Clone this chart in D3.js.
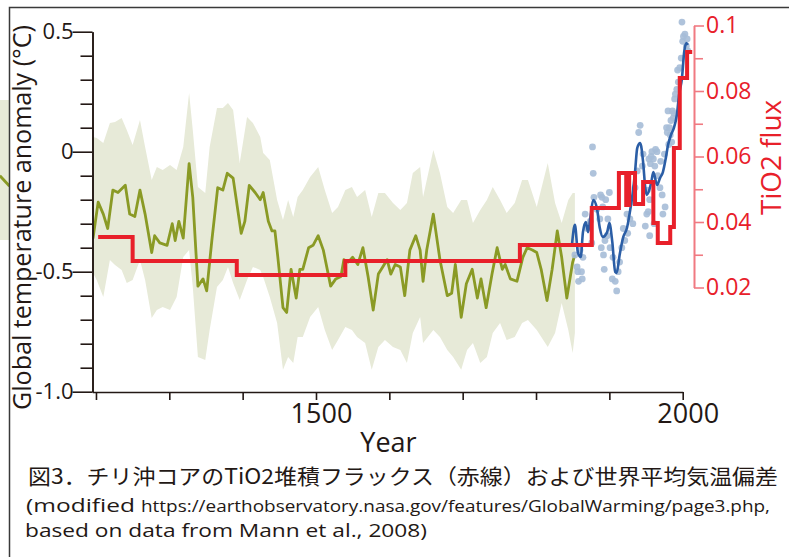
<!DOCTYPE html>
<html>
<head>
<meta charset="utf-8">
<script src="https://d3js.org/d3.v7.min.js"></script>
<style>
  body { margin: 0; background: #fff; }
  svg { display: block; }
</style>
</head>
<body>
<svg id="chart" width="789" height="557"></svg>
<script>
// Reconstruction (Mann et al. 2008), smoothed
const reconYears = [1069, 1081, 1196, 1203, 1210, 1216, 1223, 1230, 1240, 1246,
  1253, 1260, 1267, 1276, 1280, 1287, 1297, 1304, 1308, 1313,
  1319, 1327, 1332, 1339, 1346, 1351, 1358, 1366, 1373, 1379,
  1387, 1398, 1403, 1409, 1417, 1424, 1428, 1435, 1440, 1444,
  1448, 1455, 1460, 1466, 1473, 1478, 1482, 1490, 1496, 1503,
  1510, 1520, 1527, 1534, 1538, 1544, 1550, 1557, 1564, 1571,
  1578, 1585, 1591, 1597, 1602, 1608, 1615, 1621, 1628, 1636,
  1642, 1646, 1651, 1660, 1669, 1679, 1685, 1690, 1698, 1705,
  1713, 1720, 1725, 1732, 1740, 1747, 1754, 1758, 1765, 1774,
  1782, 1788, 1795, 1801, 1807, 1815, 1822, 1829, 1835, 1842,
  1850, 1853];
const reconTemp = [-0.10, -0.14, -0.36, -0.21, -0.26, -0.32, -0.16, -0.17, -0.14, -0.26,
  -0.27, -0.16, -0.26, -0.42, -0.35, -0.38, -0.39, -0.30, -0.37, -0.29,
  -0.36, -0.05, -0.19, -0.56, -0.53, -0.58, -0.37, -0.15, -0.16, -0.09,
  -0.11, -0.34, -0.29, -0.14, -0.17, -0.20, -0.17, -0.29, -0.33, -0.33,
  -0.44, -0.65, -0.67, -0.49, -0.61, -0.49, -0.49, -0.40, -0.39, -0.35,
  -0.41, -0.56, -0.53, -0.52, -0.45, -0.46, -0.44, -0.47, -0.40, -0.52,
  -0.66, -0.51, -0.48, -0.45, -0.51, -0.47, -0.48, -0.60, -0.41, -0.35,
  -0.41, -0.54, -0.41, -0.26, -0.45, -0.60, -0.59, -0.47, -0.69, -0.55,
  -0.49, -0.61, -0.53, -0.65, -0.51, -0.40, -0.49, -0.47, -0.53, -0.54,
  -0.44, -0.40, -0.41, -0.42, -0.49, -0.62, -0.49, -0.33, -0.44, -0.61,
  -0.46, -0.43];

// Uncertainty band
const bandYears = [1069, 1081, 1196, 1201, 1210, 1219, 1226, 1235, 1242, 1250,
  1260, 1267, 1276, 1283, 1291, 1301, 1310, 1319, 1327, 1332,
  1339, 1349, 1355, 1365, 1373, 1380, 1387, 1396, 1406, 1414,
  1424, 1428, 1437, 1447, 1455, 1462, 1469, 1475, 1482, 1492,
  1503, 1512, 1522, 1530, 1540, 1549, 1556, 1567, 1576, 1585,
  1594, 1605, 1615, 1624, 1632, 1642, 1646, 1660, 1669, 1679,
  1687, 1698, 1706, 1714, 1724, 1733, 1741, 1751, 1760, 1771,
  1781, 1789, 1801, 1816, 1826, 1835, 1844, 1850, 1853];
const bandUpper = [0.215, 0.215, 0.061, 0.057, 0.036, 0.120, 0.124, 0.140, 0.090, 0.028,
  0.132, 0.020, -0.118, -0.064, -0.076, -0.055, -0.076, 0.020, 0.245, 0.090,
  -0.147, -0.172, 0.020, 0.182, 0.182, 0.203, 0.174, -0.047, 0.145, 0.120,
  0.061, -0.005, -0.035, -0.201, -0.285, -0.201, -0.272, -0.189, -0.160, -0.105,
  -0.064, -0.160, -0.255, -0.230, -0.160, -0.147, -0.189, -0.160, -0.272, -0.172,
  -0.172, -0.214, -0.243, -0.214, -0.089, -0.064, -0.189, 0.007, -0.089, -0.230,
  -0.255, -0.201, -0.201, -0.297, -0.243, -0.201, -0.147, -0.201, -0.255, -0.214,
  -0.118, -0.118, -0.230, -0.047, -0.214, -0.297, -0.201, -0.172, -0.172];
const bandLower = [-0.368, -0.368, -0.505, -0.535, -0.605, -0.451, -0.472, -0.493, -0.547, -0.535,
  -0.451, -0.535, -0.693, -0.660, -0.647, -0.660, -0.605, -0.439, -0.410, -0.564,
  -0.855, -0.868, -0.743, -0.564, -0.535, -0.480, -0.547, -0.618, -0.535, -0.480,
  -0.493, -0.522, -0.605, -0.714, -0.909, -0.855, -0.880, -0.772, -0.772, -0.689,
  -0.647, -0.743, -0.826, -0.785, -0.730, -0.743, -0.772, -0.797, -0.909, -0.814,
  -0.785, -0.814, -0.826, -0.880, -0.755, -0.689, -0.797, -0.743, -0.772, -0.826,
  -0.855, -0.909, -0.826, -0.797, -0.880, -0.855, -0.755, -0.714, -0.785, -0.772,
  -0.714, -0.701, -0.743, -0.814, -0.755, -0.630, -0.743, -0.839, -0.755];

// Instrumental record, smoothed
const instYears = [1849, 1853, 1857, 1861, 1864, 1868, 1871, 1874, 1878, 1883,
  1887, 1891, 1897, 1900, 1904, 1908, 1910, 1914, 1919, 1924,
  1928, 1932, 1935, 1938, 1942, 1946, 1949, 1951, 1957, 1960,
  1965, 1969, 1973, 1977, 1980, 1984, 1988, 1992, 1995, 1999,
  2002, 2005, 2007];
const instTemp = [-0.389, -0.305, -0.418, -0.439, -0.335, -0.293, -0.335, -0.276, -0.201, -0.235,
  -0.318, -0.355, -0.335, -0.297, -0.376, -0.501, -0.505, -0.430, -0.355, -0.318,
  -0.251, -0.168, -0.085, 0.015, 0.036, -0.043, -0.151, -0.180, -0.130, -0.085,
  -0.139, -0.110, -0.085, -0.026, 0.028, 0.070, 0.099, 0.153, 0.236, 0.307,
  0.415, 0.453, 0.445];

// Instrumental record, annual points
const obsYears = [1853, 1856, 1857, 1858, 1863, 1862, 1867, 1870, 1874, 1876,
  1877, 1878, 1879, 1883, 1887, 1890, 1891, 1889, 1892, 1893,
  1894, 1898, 1897, 1901, 1904, 1905, 1908, 1910, 1912, 1914,
  1917, 1919, 1921, 1924, 1925, 1928, 1931, 1932, 1935, 1938,
  1940, 1942, 1945, 1946, 1949, 1951, 1953, 1952, 1955, 1956,
  1958, 1960, 1962, 1965, 1966, 1969, 1972, 1973, 1976, 1978,
  1979, 1980, 1983, 1985, 1987, 1989, 1990, 1992, 1993, 1994,
  1996, 1998, 1999, 2000, 2001, 2003, 2005, 2006, 2007, 1888,
  1895, 1900, 1954, 1957, 1963, 1970, 1975, 1981, 1982, 1984,
  1986, 1988, 1955, 1961, 1864, 1860];
const obsTemp = [-0.43, -0.48, -0.50, -0.54, -0.53, -0.50, -0.26, -0.32, -0.29, -0.38,
  0.02, -0.09, -0.19, -0.24, -0.28, -0.19, -0.23, -0.40, -0.43, -0.49,
  -0.37, -0.28, -0.35, -0.40, -0.53, -0.44, -0.54, -0.58, -0.50, -0.46,
  -0.40, -0.32, -0.37, -0.26, -0.34, -0.28, -0.21, -0.30, -0.15, -0.08,
  0.08, 0.11, -0.06, -0.01, -0.31, -0.26, -0.25, -0.16, -0.20, -0.05,
  0.00, -0.03, -0.06, 0.00, -0.10, -0.15, -0.18, -0.26, -0.23, 0.10,
  0.08, 0.17, 0.07, 0.04, 0.14, 0.22, 0.24, 0.26, 0.34, 0.29,
  0.35, 0.39, 0.54, 0.46, 0.48, 0.49, 0.44, 0.47, 0.42, -0.18,
  -0.20, -0.17, -0.03, -0.02, 0.01, -0.04, -0.01, 0.03, 0.10, 0.13,
  0.17, 0.16, -0.35, -0.30, -0.44, -0.41];

// TiO2 flux steps (value holds from fluxYears[i] to fluxYears[i+1])
const fluxYears = [1203, 1250, 1392, 1540, 1778, 1876, 1913, 1923, 1927, 1935,
  1946, 1960, 1966, 1983, 1988, 1996, 2006, 2013];
const fluxValues = [0.0354, 0.0281, 0.0238, 0.0281, 0.0330, 0.0443, 0.0550, 0.0452, 0.0550, 0.0455,
  0.0522, 0.0397, 0.0336, 0.0385, 0.0626, 0.0840, 0.0919];

const yearTicks = [1200, 1300, 1400, 1500, 1600, 1700, 1800, 1900, 2000];
const yearLabels = [1500, 2000];
const tempMajor = [0.5, 0, -0.5, -1.0];
const tempMinor = [0.4, 0.3, 0.2, 0.1, -0.1, -0.2, -0.3, -0.4, -0.6, -0.7, -0.8, -0.9];
const tempLabels = ["0.5", "0", "-0.5", "-1.0"];
const fluxMajor = [0.1, 0.08, 0.06, 0.04, 0.02];
const fluxMinor = [0.09, 0.07, 0.05, 0.03];
const fluxLabels = ["0.1", "0.08", "0.06", "0.04", "0.02"];

const INK = "#231815";
const RED = "#e8202a";
const FONT = "'Open Sans', 'Noto Sans', sans-serif";

const svg = d3.select("#chart");

const x = d3.scaleLinear().domain([1195, 2000]).range([92.3, 682.7]);
const yT = d3.scaleLinear().domain([-1.0, 0.5]).range([391.7, 31.7]);
const yF = d3.scaleLinear().domain([0.02, 0.1]).range([287.5, 25.5]);

// uncertainty band
const band = d3.area()
  .x((d, i) => x(bandYears[i]))
  .y0((d, i) => yT(bandLower[i]))
  .y1((d, i) => yT(bandUpper[i]));
svg.append("path")
  .attr("d", band(bandYears))
  .attr("fill", "#e7ead8");

// reconstruction line
const recon = d3.line()
  .x((d, i) => x(reconYears[i]))
  .y((d, i) => yT(reconTemp[i]));
svg.append("path")
  .attr("d", recon(reconYears))
  .attr("fill", "none")
  .attr("stroke", "#8a9a25")
  .attr("stroke-width", 2.8)
  .attr("stroke-linejoin", "round");

// observed annual values
svg.append("g").selectAll("circle")
  .data(obsYears)
  .enter().append("circle")
    .attr("cx", (d, i) => x(d))
    .attr("cy", (d, i) => yT(obsTemp[i]))
    .attr("r", 3.4)
    .attr("fill", "#a6bcd7")
    .attr("opacity", 0.9);

// instrumental smoothed line
const inst = d3.line()
  .x((d, i) => x(instYears[i]))
  .y((d, i) => yT(instTemp[i]))
  .curve(d3.curveMonotoneX);
svg.append("path")
  .attr("d", inst(instYears))
  .attr("fill", "none")
  .attr("stroke", "#2b5ea6")
  .attr("stroke-width", 2.6)
  .attr("stroke-linejoin", "round");

// TiO2 flux step line
const fluxPts = fluxValues.map((v, i) => [fluxYears[i], v]);
fluxPts.push([fluxYears[fluxYears.length - 1], fluxValues[fluxValues.length - 1]]);
const flux = d3.line()
  .x(d => x(d[0]))
  .y(d => yF(d[1]))
  .curve(d3.curveStepAfter);
svg.append("path")
  .attr("d", flux(fluxPts))
  .attr("fill", "none")
  .attr("stroke", RED)
  .attr("stroke-width", 4)
  .attr("stroke-linejoin", "miter");

// blank area for the left axis
svg.append("rect")
  .attr("x", 10).attr("y", 8)
  .attr("width", 82).attr("height", 549)
  .attr("fill", "#fff");

// frame
svg.append("path")
  .attr("d", "M9.5,557V7.5H789")
  .attr("fill", "none")
  .attr("stroke", "#3a3a3a")
  .attr("stroke-width", 1.5);

function styleAxis(g, color) {
  g.select(".domain").attr("stroke", color).attr("stroke-width", 1.6);
  g.selectAll(".tick line").attr("stroke", color).attr("stroke-width", 1.6);
}

// left axis
const leftMinor = svg.append("g")
  .attr("transform", "translate(92.5,0)")
  .call(d3.axisLeft(yT).tickValues(tempMinor).tickSize(12).tickSizeOuter(0).tickFormat(""));
styleAxis(leftMinor, INK);
const leftMajor = svg.append("g")
  .attr("transform", "translate(92.5,0)")
  .call(d3.axisLeft(yT).tickValues(tempMajor).tickSize(20).tickSizeOuter(0).tickPadding(-1)
    .tickFormat((d, i) => tempLabels[i]));
styleAxis(leftMajor, INK);
leftMajor.selectAll("text")
  .attr("fill", INK)
  .style("font-family", FONT)
  .style("font-size", "22px");

// bottom axis
const bottom = svg.append("g")
  .attr("transform", "translate(0,392)")
  .call(d3.axisBottom(x).tickValues(yearTicks).tickSize(8).tickSizeOuter(0).tickPadding(4)
    .tickFormat(d => yearLabels.includes(d) ? String(d) : ""));
styleAxis(bottom, INK);
bottom.selectAll("text")
  .attr("fill", INK)
  .attr("dx", 5)
  .style("font-family", FONT)
  .style("font-size", "27px");

// right axis
const rightMinor = svg.append("g")
  .attr("transform", "translate(694,0)")
  .call(d3.axisRight(yF).tickValues(fluxMinor).tickSize(9).tickSizeOuter(0).tickFormat(""));
styleAxis(rightMinor, "#f07a82");
const rightMajor = svg.append("g")
  .attr("transform", "translate(694,0)")
  .call(d3.axisRight(yF).tickValues(fluxMajor).tickSize(10).tickSizeOuter(0).tickPadding(2)
    .tickFormat((d, i) => fluxLabels[i]));
styleAxis(rightMajor, "#f07a82");
rightMajor.selectAll("text")
  .attr("fill", RED)
  .style("font-family", FONT)
  .style("font-size", "23px");

// axis titles
svg.append("text")
  .attr("transform", "translate(31,217.5) rotate(-90)")
  .attr("text-anchor", "middle")
  .attr("textLength", 385)
  .attr("lengthAdjust", "spacingAndGlyphs")
  .attr("fill", INK)
  .style("font-family", FONT)
  .style("font-size", "26px")
  .text("Global temperature anomaly (°C)");

svg.append("text")
  .attr("transform", "translate(781,157.5) rotate(-90)")
  .attr("text-anchor", "middle")
  .attr("textLength", 115)
  .attr("lengthAdjust", "spacingAndGlyphs")
  .attr("fill", RED)
  .style("font-family", FONT)
  .style("font-size", "27px")
  .text("TiO2 flux");

svg.append("text")
  .attr("x", 388.5).attr("y", 452)
  .attr("text-anchor", "middle")
  .attr("fill", INK)
  .style("font-family", FONT)
  .style("font-size", "27px")
  .text("Year");

// caption
svg.append("text")
  .attr("x", 28).attr("y", 484)
  .attr("textLength", 750)
  .attr("lengthAdjust", "spacingAndGlyphs")
  .attr("fill", INK)
  .style("font-family", "'Noto Sans CJK JP', sans-serif")
  .style("font-size", "21px")
  .text("図3．チリ沖コアのTiO2堆積フラックス（赤線）および世界平均気温偏差");

svg.append("text")
  .attr("x", 26).attr("y", 512)
  .attr("textLength", 109)
  .attr("lengthAdjust", "spacingAndGlyphs")
  .attr("fill", INK)
  .style("font-family", FONT)
  .style("font-size", "19px")
  .text("(modified");

svg.append("text")
  .attr("x", 141).attr("y", 512)
  .attr("textLength", 629)
  .attr("lengthAdjust", "spacingAndGlyphs")
  .attr("fill", INK)
  .style("font-family", FONT)
  .style("font-size", "17px")
  .text("https://earthobservatory.nasa.gov/features/GlobalWarming/page3.php,");

svg.append("text")
  .attr("x", 25).attr("y", 537)
  .attr("textLength", 402)
  .attr("lengthAdjust", "spacingAndGlyphs")
  .attr("fill", INK)
  .style("font-family", FONT)
  .style("font-size", "19px")
  .text("based on data from Mann et al., 2008)");
</script>
</body>
</html>
